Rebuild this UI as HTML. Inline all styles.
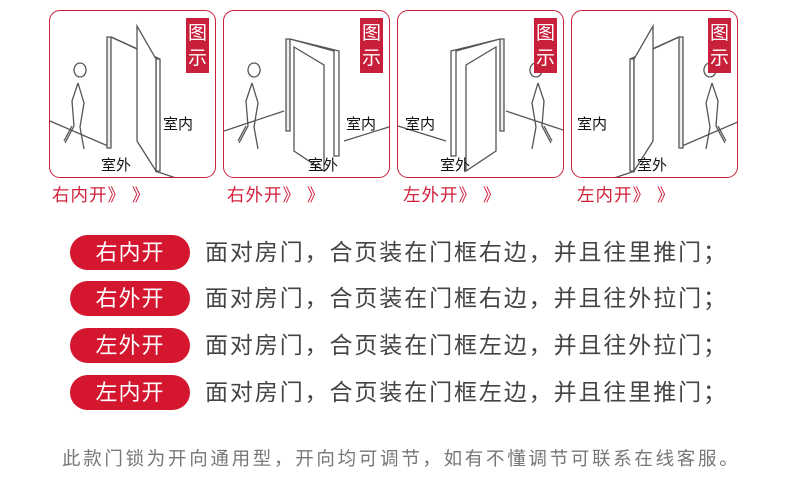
<!DOCTYPE html>
<html><head><meta charset="utf-8"><style>
body{margin:0;width:790px;height:490px;background:#fff;position:relative;overflow:hidden;font-family:"Liberation Sans","Noto Sans CJK SC",sans-serif}
.p{position:absolute;top:10px;width:165px;height:166px;border:1.5px solid #c8203a;border-radius:11px;overflow:hidden}
.p svg{position:absolute;left:0;top:0}
.b{position:absolute;top:7px;left:136px;width:23px;height:55px;background:#c8203a;color:#fff;font-size:19px;line-height:25px;text-align:center;padding-top:3px;box-sizing:border-box}
.l{position:absolute;font-size:15px;color:#111}
.c{position:absolute;top:182px;font-size:17.5px;color:#d0203a;letter-spacing:1px}
.pill{position:absolute;left:70px;width:120px;height:35px;border-radius:18px;background:#d4162f;color:#fff;font-size:22px;text-align:center;line-height:35px;letter-spacing:1px}
.t{position:absolute;left:205px;font-size:23px;color:#444;line-height:35px;letter-spacing:1.9px;white-space:nowrap}
.f{position:absolute;left:62px;top:445px;font-size:18.5px;color:#777;letter-spacing:2.7px;white-space:nowrap}
</style></head><body>

<svg width="0" height="0" style="position:absolute"><defs>
<g id="inn" fill="none" stroke="#555" stroke-width="1.3">
<line x1="0" y1="110" x2="58" y2="135"/><line x1="105" y1="160" x2="150" y2="175"/>
<path d="M57 26 L61 26 L61 137 L57 137 Z" fill="#eee"/>
<path d="M61 26 L110 48 L110 160 L106 160"/>
<path d="M106 48 L110 48"/><path d="M106 48 L106 160" />
<path d="M87 15 L87 130 L106 160 L106 48 Z" fill="#fff"/>
<line x1="61" y1="26" x2="87" y2="38"/>
<path d="M30 66 a6 7 0 1 1 0.1 0 M28 72 L22 90 L24 115 L15 132 M28 72 L34 92 L30 116 L34 138 M22 115 L14 130" />
</g>
<g id="out" fill="none" stroke="#555" stroke-width="1.3">
<line x1="0" y1="120" x2="60" y2="100"/><line x1="120" y1="130" x2="168" y2="115"/>
<path d="M62 28 L66 28 L66 120 L62 120 Z" fill="#eee"/>
<path d="M66 28 L110 40 L110 145 L115 145 L115 40 L66 28"/>
<path d="M70 36 L100 54 L100 160 L70 140 Z" fill="#fff"/>
<path d="M30 66 a6 7 0 1 1 0.1 0 M28 72 L22 90 L24 115 L15 132 M28 72 L34 92 L30 116 L34 138 M22 115 L14 130" />
</g></defs></svg>

<div class="p" style="left:49px"><svg width="168" height="168"><use href="#inn"/></svg><div class="b">图示</div><div class="l" style="left:113px;top:102px">室内</div><div class="l" style="left:51px;top:143px">室外</div></div>
<div class="p" style="left:223px"><svg width="168" height="168"><use href="#out"/></svg><div class="b">图示</div><div class="l" style="left:122px;top:102px">室内</div><div class="l" style="left:84px;top:143px">室外</div></div>
<div class="p" style="left:397px"><svg width="168" height="168"><use href="#out" transform="translate(168,0) scale(-1,1)"/></svg><div class="b">图示</div><div class="l" style="left:7px;top:102px">室内</div><div class="l" style="left:42px;top:143px">室外</div></div>
<div class="p" style="left:571px"><svg width="168" height="168"><use href="#inn" transform="translate(168,0) scale(-1,1)"/></svg><div class="b">图示</div><div class="l" style="left:5px;top:102px">室内</div><div class="l" style="left:65px;top:143px">室外</div></div>

<div class="c" style="left:52px">右内开》 》</div>
<div class="c" style="left:227px">右外开》 》</div>
<div class="c" style="left:403px">左外开》 》</div>
<div class="c" style="left:577px">左内开》 》</div>

<div class="pill" style="top:235px">右内开</div><div class="t" style="top:235px">面对房门，合页装在门框右边，并且往里推门；</div>
<div class="pill" style="top:281px">右外开</div><div class="t" style="top:281px">面对房门，合页装在门框右边，并且往外拉门；</div>
<div class="pill" style="top:328px">左外开</div><div class="t" style="top:328px">面对房门，合页装在门框左边，并且往外拉门；</div>
<div class="pill" style="top:375px">左内开</div><div class="t" style="top:375px">面对房门，合页装在门框左边，并且往里推门；</div>

<div class="f">此款门锁为开向通用型，开向均可调节，如有不懂调节可联系在线客服。</div>
</body></html>
